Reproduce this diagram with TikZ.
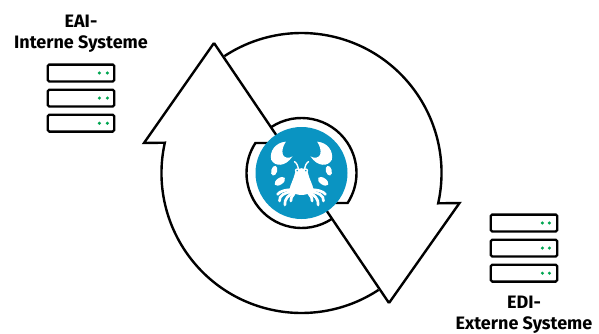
\documentclass[tikz,border=0pt]{standalone}
\usepackage{fontspec}
\setmainfont{Fira Sans}
\usetikzlibrary{positioning,calc}
\definecolor{hubblue}{HTML}{0A94C2}
\definecolor{ledgreen}{HTML}{00A651}
\newcommand{\crabside}{%
  \fill[white] (-47,-94) .. controls (-78,-92) and (-97,-65) .. (-91,-40)
    .. controls (-80,-18) and (-48,-18) .. (-27,-50)
    .. controls (-38,-43) and (-52,-45) .. (-56,-55)
    .. controls (-60,-68) and (-55,-82) .. (-47,-94) -- cycle;
  \fill[white] (-82,-7) ellipse [x radius=9, y radius=15, rotate=15];
  \fill[white] (-65,25) ellipse [x radius=18, y radius=10, rotate=-35];
  \fill[white] (1,-14) -- (0,-14) .. controls (-12,-14) and (-18,-8) .. (-20,2)
    .. controls (-24,20) and (-34,35) .. (-36,50)
    .. controls (-30,62) and (-12,66) .. (1,66) -- cycle;
  \draw[white,line width=1.4pt,line cap=round] (-9,-8) .. controls (-10,-20) and (-14,-30) .. (-21,-34);
  \fill[white] (-13,-7) circle (7);
  \fill[hubblue] (-13,-7) circle (2.5);
  \draw[white,line width=2.7pt,line cap=round] (-28,50) .. controls (-45,50) and (-65,54) .. (-72,64);
  \draw[white,line width=2.7pt,line cap=round] (-28,56) .. controls (-50,58) and (-68,68) .. (-66,84);
  \draw[white,line width=2.7pt,line cap=round] (-26,60) .. controls (-38,66) and (-52,78) .. (-50,96);
  \draw[white,line width=2.7pt,line cap=round] (-22,62) .. controls (-28,70) and (-34,76) .. (-32,84);
}
\begin{document}
\begin{tikzpicture}[
  x=1pt, y=1pt,
  node distance=6pt and 10pt,
  serverbox/.style={draw, line width=2.3pt, rounded corners=1.5pt, minimum width=66.5pt, minimum height=16.8pt, inner sep=0pt},
  led/.style={circle, fill=ledgreen, minimum size=3.4pt, inner sep=0pt},
  sysname/.style={align=center, font=\bfseries\fontsize{18}{21}\selectfont, inner sep=0pt},
  ring/.style={line width=2.4pt, line join=miter}
]
\useasboundingbox (0,0) rectangle (599,333);

\coordinate (mid) at (301.5,160);
\coordinate (tipA) at (214,290);
\coordinate (barbA) at (144,190);
\coordinate (neckA) at ($(mid)+(167.5:140)$);
\coordinate (tipB) at (389,30);
\coordinate (barbB) at (459.5,130);
\coordinate (neckB) at ($(mid)+(-12.5:140)$);

% outer outline of the two arrows
\draw[ring] (tipA) -- (barbA) -- (neckA) arc[start angle=167.5, end angle=303.4, radius=140pt];
\draw[ring] (tipB) -- (barbB) -- (neckB) arc[start angle=-12.5, end angle=123.4, radius=140pt];
\draw[ring] (tipA) -- ($(mid)+(123.4:30)$);
\draw[ring] (tipB) -- ($(mid)+(-56.6:30)$);

% inner arcs round the hub
\draw[ring] ($(mid)+(123.4:55)$) arc[start angle=123.4, end angle=-33, radius=55pt] -- ++(-15,0);
\draw[ring] ($(mid)+(303.4:55)$) arc[start angle=303.4, end angle=147, radius=55pt] -- ++(15,0);

\node[circle, fill=hubblue, minimum size=92pt, inner sep=0pt] (hub) at (mid) {};
\begin{scope}[shift={(mid)}, xscale=0.333, yscale=-0.333]
  \crabside
\end{scope}
\begin{scope}[shift={(mid)}, xscale=-0.333, yscale=-0.333]
  \crabside
\end{scope}

\node[serverbox] (eai1) at (81,260) {};
\node[serverbox, below=of eai1] (eai2) {};
\node[serverbox, below=of eai2] (eai3) {};
\node[led] (eai1a) at ([xshift=-16pt]eai1.east) {};
\node[led] (eai1b) at ([xshift=-8pt]eai1.east) {};
\node[led] (eai2a) at ([xshift=-16pt]eai2.east) {};
\node[led] (eai2b) at ([xshift=-8pt]eai2.east) {};
\node[led] (eai3a) at ([xshift=-16pt]eai3.east) {};
\node[led] (eai3b) at ([xshift=-8pt]eai3.east) {};
\node[sysname, above=11pt of eai1] (eai) {EAI-\\Interne Systeme};

\node[serverbox] (edi1) at (524,110) {};
\node[serverbox, below=of edi1] (edi2) {};
\node[serverbox, below=of edi2] (edi3) {};
\node[led] (edi1a) at ([xshift=-16pt]edi1.east) {};
\node[led] (edi1b) at ([xshift=-9pt]edi1.east) {};
\node[led] (edi2a) at ([xshift=-16pt]edi2.east) {};
\node[led] (edi2b) at ([xshift=-9pt]edi2.east) {};
\node[led] (edi3a) at ([xshift=-16pt]edi3.east) {};
\node[led] (edi3b) at ([xshift=-9pt]edi3.east) {};
\node[sysname, below=13pt of edi3] (edi) {EDI-\\Externe Systeme};
\end{tikzpicture}
\end{document}
